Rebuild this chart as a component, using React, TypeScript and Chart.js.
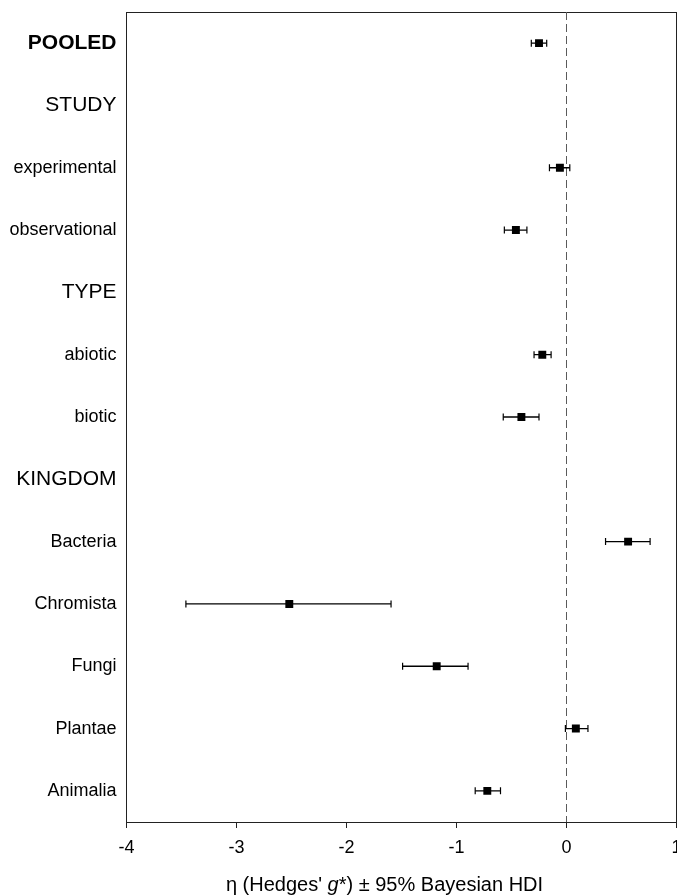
import { useEffect, useRef } from 'react';
import { Chart, registerables } from 'chart.js';

Chart.register(...registerables);

const categories = [
  'POOLED',
  'STUDY',
  'experimental',
  'observational',
  'TYPE',
  'abiotic',
  'biotic',
  'KINGDOM',
  'Bacteria',
  'Chromista',
  'Fungi',
  'Plantae',
  'Animalia',
];
const headerRows = ['POOLED', 'STUDY', 'TYPE', 'KINGDOM'];
const boldRows = ['POOLED'];

const means = [-0.25, null, -0.06, -0.46, null, -0.22, -0.41, null, 0.56, -2.52, -1.18, 0.085, -0.72];
const lowers = [-0.32, null, -0.155, -0.565, null, -0.295, -0.575, null, 0.355, -3.46, -1.49, -0.01, -0.83];
const uppers = [-0.18, null, 0.03, -0.36, null, -0.14, -0.25, null, 0.76, -1.595, -0.895, 0.195, -0.6];

const xTickValues = [-4, -3, -2, -1, 0, 1];
const referenceValue = 0;

const axisTitleParts = [
  { text: "\u03b7 (Hedges' ", italic: false },
  { text: 'g', italic: true },
  { text: '*) \u00b1 95% Bayesian HDI', italic: false },
];

const FONT = '"Liberation Sans", Arial, Helvetica, sans-serif';

const framePlugin = {
  id: 'frame',
  beforeDatasetsDraw(chart: any) {
    const { ctx, chartArea } = chart;
    const l = Math.floor(chartArea.left) + 0.5;
    const t = Math.floor(chartArea.top) + 0.5;
    const r = Math.floor(chartArea.right) + 0.5;
    const b = Math.floor(chartArea.bottom) + 0.5;
    ctx.save();
    ctx.strokeStyle = '#222';
    ctx.lineWidth = 1;
    ctx.strokeRect(l, t, r - l, b - t);
    ctx.restore();
  },
};

const axisTitlePlugin = {
  id: 'axisTitleMixed',
  afterDraw(chart: any) {
    const { ctx, chartArea } = chart;
    const size = 20;
    ctx.save();
    ctx.fillStyle = '#000';
    ctx.textBaseline = 'middle';
    ctx.textAlign = 'left';
    const fontFor = (italic: boolean) => `${italic ? 'italic ' : ''}${size}px ${FONT}`;
    let total = 0;
    const widths = axisTitleParts.map((p) => {
      ctx.font = fontFor(p.italic);
      const w = ctx.measureText(p.text).width;
      total += w;
      return w;
    });
    const cx = (chartArea.left + chartArea.right) / 2 - 17;
    let x = cx - total / 2;
    const y = chartArea.bottom + 63;
    axisTitleParts.forEach((p, i) => {
      ctx.font = fontFor(p.italic);
      ctx.fillText(p.text, x, y);
      x += widths[i];
    });
    ctx.restore();
  },
};

export default function App() {
  const canvasRef = useRef<HTMLCanvasElement | null>(null);

  useEffect(() => {
    const canvas = canvasRef.current;
    if (!canvas) return;

    const meanData = categories
      .map((_, i) => (means[i] === null ? null : { x: means[i] as number, y: i }))
      .filter((d) => d !== null);

    const barDatasets = categories
      .map((_, i) =>
        lowers[i] === null
          ? null
          : {
              type: 'scatter' as const,
              data: [
                { x: lowers[i] as number, y: i },
                { x: uppers[i] as number, y: i },
              ],
              showLine: true,
              borderColor: '#000',
              borderWidth: 1.3,
              pointStyle: 'line' as const,
              pointRotation: 90,
              pointRadius: 3.5,
              pointBorderColor: '#000',
              pointBorderWidth: 1.2,
              pointHoverRadius: 3.5,
              order: 1,
            }
      )
      .filter((d) => d !== null);

    const chart = new Chart(canvas, {
      type: 'scatter',
      data: {
        datasets: [
          {
            type: 'scatter',
            data: meanData as any,
            pointStyle: 'rect',
            pointRadius: 5.6,
            pointHoverRadius: 5.6,
            backgroundColor: '#000',
            borderColor: '#000',
            borderWidth: 0,
            order: 0,
          },
          ...(barDatasets as any[]),
          {
            type: 'line',
            data: [
              { x: referenceValue, y: -0.5 },
              { x: referenceValue, y: categories.length - 0.5 },
            ],
            borderColor: '#5a5a5a',
            borderWidth: 1,
            borderDash: [8, 4],
            pointRadius: 0,
            order: 2,
          },
        ],
      },
      options: {
        animation: false,
        responsive: false,
        events: [],
        layout: { autoPadding: false, padding: { top: 12, right: 0.5, bottom: 0, left: 0 } },
        plugins: {
          legend: { display: false },
          tooltip: { enabled: false },
          title: { display: false },
        },
        scales: {
          x: {
            type: 'linear',
            min: -4,
            max: 1,
            afterBuildTicks: (scale: any) => {
              scale.ticks = xTickValues.map((v) => ({ value: v }));
            },
            afterFit: (scale: any) => {
              scale.height = 74;
              scale.paddingLeft = 0;
              scale.paddingRight = 0;
            },
            border: { display: false },
            grid: {
              display: true,
              drawOnChartArea: false,
              drawTicks: true,
              tickLength: 6,
              color: '#222',
              lineWidth: 1,
            },
            ticks: {
              color: '#000',
              padding: 9,
              font: { family: FONT, size: 18 },
              maxRotation: 0,
              autoSkip: false,
            },
          },
          y: {
            type: 'linear',
            min: -0.5,
            max: categories.length - 0.5,
            reverse: true,
            afterBuildTicks: (scale: any) => {
              scale.ticks = categories.map((_, i) => ({ value: i }));
            },
            afterFit: (scale: any) => {
              scale.width = 126.5;
              scale.paddingTop = 0;
              scale.paddingBottom = 0;
            },
            border: { display: false },
            grid: { display: false, drawTicks: false },
            ticks: {
              color: '#000',
              padding: 10,
              autoSkip: false,
              callback: (value: any) => categories[Math.round(Number(value))] ?? '',
              font: (ctx: any) => {
                const idx = ctx.tick ? Math.round(ctx.tick.value) : ctx.index;
                const label = categories[idx];
                const isHeader = headerRows.includes(label);
                const isBold = boldRows.includes(label);
                return {
                  family: FONT,
                  size: isHeader ? 21 : 18,
                  weight: isBold ? 'bold' : 'normal',
                };
              },
            },
          },
        },
      },
      plugins: [framePlugin, axisTitlePlugin],
    });

    return () => {
      chart.destroy();
    };
  }, []);

  return (
    <div style={{ position: 'absolute', left: 0, top: 0, width: 677, height: 896, background: '#fff' }}>
      <canvas ref={canvasRef} width={677} height={896} style={{ display: 'block' }} />
    </div>
  );
}
